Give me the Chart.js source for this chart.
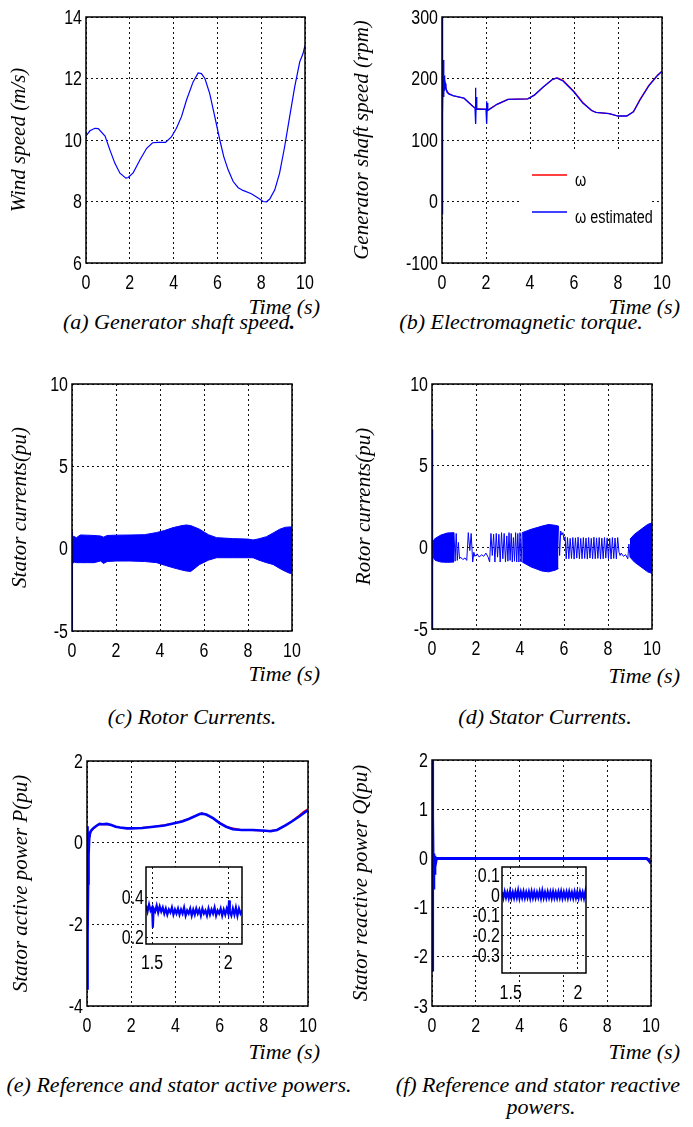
<!DOCTYPE html>
<html>
<head>
<meta charset="utf-8">
<script src="https://cdn.jsdelivr.net/npm/chart.js@4.4.1/dist/chart.umd.min.js"></script>
<style>
  body { margin: 0; background: #fff; width: 693px; height: 1127px; position: relative; overflow: hidden; }
  canvas { position: absolute; }
  .t { position: absolute; font: italic 22px "Liberation Serif", "Times New Roman", serif; white-space: nowrap; line-height: 22px; color: #000; }
  .cap { text-align: center; width: 400px; }
</style>
</head>
<body>
<div class="t" style="right:373px;top:296px">Time (s)</div>
<div class="t" style="right:13px;top:296px">Time (s)</div>
<div class="t" style="right:373px;top:663px">Time (s)</div>
<div class="t" style="right:13px;top:665px">Time (s)</div>
<div class="t" style="right:373px;top:1041px">Time (s)</div>
<div class="t" style="right:13px;top:1041px">Time (s)</div>

<div class="t cap" style="left:-21px;top:311px">(a) Generator shaft speed<b>.</b></div>
<div class="t cap" style="left:321px;top:311px">(b) Electromagnetic torque.</div>
<div class="t cap" style="left:-8px;top:706px">(c) Rotor Currents.</div>
<div class="t cap" style="left:345px;top:706px">(d) Stator Currents.</div>
<div class="t cap" style="left:-21px;top:1074px">(e) Reference and stator active powers.</div>
<div class="t cap" style="left:338px;top:1074px">(f) Reference and stator reactive</div>
<div class="t cap" style="left:341px;top:1096px">powers.</div>

<script>
// ---- tick labels ----
const timeTicks = [0, 2, 4, 6, 8, 10];
const windTicks = [6, 8, 10, 12, 14];
const speedTicks = [-100, 0, 100, 200, 300];
const currentTicks = [-5, 0, 5, 10];
const pTicks = [-4, -2, 0, 2];
const qTicks = [-3, -2, -1, 0, 1, 2];
const insetPxTicks = [1.5, 2];
const insetPyTicks = [0.2, 0.4];
const insetQxTicks = [1.5, 2];
const insetQyTicks = [-0.3, -0.2, -0.1, 0, 0.1];

// ---- (a) wind speed ----
const windTime = [0, 0.18, 0.41, 0.56, 0.87, 1.09, 1.32, 1.55, 1.82, 1.93, 2.16, 2.46, 2.77, 3.04, 3.3, 3.63, 3.91, 4.13, 4.36, 4.59, 4.89, 5.12, 5.27, 5.43, 5.65, 5.88, 6.11, 6.29, 6.49, 6.72, 6.95, 7.17, 7.55, 7.86, 8.09, 8.24, 8.39, 8.62, 8.84, 9.07, 9.3, 9.53, 9.76, 9.91, 10];
const windSpeed = [10.13, 10.3, 10.38, 10.37, 10.13, 9.68, 9.24, 8.92, 8.76, 8.78, 8.94, 9.35, 9.73, 9.91, 9.92, 9.92, 10.11, 10.38, 10.76, 11.3, 11.89, 12.18, 12.16, 12.0, 11.51, 10.76, 10.0, 9.46, 9.03, 8.65, 8.45, 8.36, 8.25, 8.11, 8.0, 7.99, 8.08, 8.38, 8.92, 9.78, 10.76, 11.73, 12.54, 12.81, 13.08];

// ---- (b) generator shaft speed ----
const omegaTime = [0, 0.1, 0.2, 0.3, 0.5, 1.0, 1.4, 1.55, 2.0, 2.1, 2.5, 3.0, 3.9, 4.2, 4.6, 5.0, 5.25, 5.5, 6.0, 6.4, 6.8, 7.0, 7.6, 8.0, 8.4, 8.7, 9.0, 9.4, 9.8, 10];
const omega = [203, 196, 182, 176, 172, 168, 155, 151, 150, 149, 158, 166, 167, 173, 186, 198, 201, 197, 179, 161, 148, 145, 143, 139, 139, 146, 166, 189, 206, 212];
const estTime = [0, 0.01, 0.02, 0.03, 0.045, 0.06, 0.08, 0.1, 0.12, 0.15, 0.18, 0.22, 0.3, 0.5, 1.0, 1.4, 1.5, 1.52, 1.54, 1.56, 1.58, 2.0, 2.02, 2.04, 2.06, 2.08, 2.5, 3.0, 3.9, 4.2, 4.6, 5.0, 5.2, 5.5, 6.0, 6.4, 6.8, 7.0, 7.6, 8.0, 8.4, 8.7, 9.0, 9.4, 9.8, 10];
const omegaEst = [-20, 300, 120, 262, 140, 230, 170, 205, 180, 192, 185, 178, 175, 172, 168, 155, 152, 185, 126, 170, 150, 150, 163, 126, 160, 148, 158, 166, 167, 173, 186, 198, 201, 196, 178, 160, 148, 145, 143, 139, 139, 146, 165, 188, 205, 212];

// ---- (c) stator currents ----
const statorSpikeTime = [0, 0.01, 0.02, 0.03, 0.05, 0.07];
const statorSpike = [0, 1.05, -5, 0.9, -0.85, 0.75];
const statorEnvTime = [0.07, 0.2, 0.38, 0.7, 1.0, 1.3, 1.43, 1.6, 2.0, 2.64, 3.3, 3.85, 4.2, 4.6, 5.0, 5.2, 5.4, 5.8, 6.2, 6.57, 7.3, 8.0, 8.23, 8.5, 8.84, 9.14, 9.44, 9.7, 9.9, 10];
const statorUpper = [0.75, 0.67, 0.83, 0.82, 0.8, 0.77, 0.7, 0.8, 0.82, 0.83, 0.85, 0.98, 1.1, 1.28, 1.4, 1.44, 1.4, 1.18, 0.85, 0.67, 0.61, 0.58, 0.53, 0.6, 0.73, 0.95, 1.18, 1.3, 1.32, 1.32];
const statorLower = [-0.8, -0.85, -0.85, -0.85, -0.85, -0.75, -0.9, -0.78, -0.75, -0.75, -0.78, -0.85, -1.0, -1.16, -1.3, -1.36, -1.38, -0.96, -0.7, -0.55, -0.55, -0.55, -0.55, -0.7, -0.85, -0.96, -1.2, -1.38, -1.5, -1.5];

// ---- (d) rotor currents ----
const rotorSpikeTime = [0, 0.005, 0.01, 0.015, 0.02, 0.03, 0.04, 0.05];
const rotorSpike = [0, 7.2, -5, 3, -2.8, 2, -1.2, 0.4];
const rotorBand1Time = [0.05, 0.15, 0.4, 0.7, 1.0];
const rotorBand1Upper = [0.4, 0.55, 0.75, 0.88, 0.9];
const rotorBand1Lower = [-0.6, -0.8, -0.9, -0.92, -0.9];
const rotorBand2Time = [4.1, 4.5, 5.0, 5.3, 5.6, 5.75];
const rotorBand2Upper = [0.9, 1.1, 1.3, 1.4, 1.35, 1.3];
const rotorBand2Lower = [-0.9, -1.2, -1.45, -1.5, -1.4, -1.3];
const rotorBand3Time = [9.0, 9.2, 9.5, 9.8, 10];
const rotorBand3Upper = [0.5, 0.8, 1.1, 1.4, 1.5];
const rotorBand3Lower = [-0.6, -0.9, -1.2, -1.5, -1.6];
const rotorWave1Time = [1.0, 1.05, 1.1, 1.15, 1.2, 1.25, 1.3, 1.4, 1.5, 1.58, 1.65, 1.72, 1.78, 1.85, 1.9, 1.95, 2.05, 2.15, 2.25, 2.35, 2.45, 2.55, 2.62, 2.68, 2.74, 2.8, 2.86, 2.92, 2.98, 3.04, 3.1, 3.16, 3.22, 3.28, 3.34, 3.4, 3.45, 3.5, 3.55, 3.6, 3.65, 3.7, 3.75, 3.8, 3.85, 3.9, 3.95, 4.0, 4.05, 4.1];
const rotorWave1 = [0.9, -0.85, 0.85, -0.8, 0.3, -0.7, -0.6, -0.75, -0.65, -0.8, 0.9, -0.2, 0.85, -0.9, -0.3, -0.55, -0.4, -0.6, -0.45, -0.55, -0.35, -0.6, -0.9, 0.85, -0.5, 0.8, -0.9, 0.85, -0.6, 0.8, -0.9, 0.9, -0.7, 0.85, -0.9, 0.7, -0.85, 0.9, -0.8, 0.85, -0.9, 0.6, -0.85, 0.9, -0.9, 0.85, -0.9, 0.9, -0.9, 0.9];
const rotorWave2Time = [5.75, 5.8, 5.85, 5.9, 5.95, 6.0, 6.05, 6.1, 6.16, 6.22, 6.28, 6.34, 6.4, 6.46, 6.52, 6.58, 6.64, 6.7, 6.76, 6.82, 6.88, 6.94, 7.0, 7.06, 7.12, 7.18, 7.24, 7.3, 7.36, 7.42, 7.48, 7.54, 7.6, 7.66, 7.72, 7.78, 7.84, 7.9, 7.96, 8.02, 8.08, 8.14, 8.2, 8.26, 8.32, 8.38, 8.44, 8.5, 8.55, 8.6, 8.7, 8.8, 8.9, 8.95, 9.0];
const rotorWave2 = [1.3, -0.5, 1.0, 0.75, 0.9, 0.45, 0.65, -0.7, 0.6, -0.7, 0.55, -0.68, 0.6, -0.72, 0.58, -0.66, 0.62, -0.7, 0.55, -0.7, 0.6, -0.68, 0.57, -0.72, 0.6, -0.66, 0.55, -0.7, 0.62, -0.7, 0.58, -0.68, 0.6, -0.72, 0.56, -0.7, 0.6, -0.66, 0.58, -0.7, 0.55, -0.72, 0.6, -0.68, 0.57, -0.7, 0.6, -0.3, -0.5, -0.35, -0.55, -0.45, -0.7, 0.2, -0.6];

// ---- (e) active power ----
const pTime = [0, 0.01, 0.02, 0.03, 0.04, 0.05, 0.07, 0.1, 0.14, 0.2, 0.3, 0.45, 0.57, 0.7, 0.9, 1.1, 1.3, 1.5, 1.8, 2.0, 2.5, 3.0, 3.5, 3.9, 4.3, 4.6, 5.1, 5.2, 5.4, 5.7, 6.0, 6.3, 6.6, 7.0, 7.5, 8.1, 8.3, 8.6, 9.0, 9.3, 9.6, 9.8, 9.9, 10];
const pMeas = [0.4, -3.6, 0.3, -3.0, -2.3, -1.0, -0.3, 0.1, 0.25, 0.3, 0.36, 0.42, 0.46, 0.45, 0.46, 0.43, 0.39, 0.37, 0.35, 0.35, 0.36, 0.39, 0.42, 0.47, 0.52, 0.58, 0.7, 0.71, 0.69, 0.6, 0.48, 0.39, 0.33, 0.31, 0.31, 0.29, 0.28, 0.31, 0.43, 0.53, 0.64, 0.72, 0.76, 0.79];
const pRefTime = [0, 0.1, 0.2, 0.5, 1.0, 1.5, 2.0, 3.0, 3.9, 4.6, 5.2, 5.7, 6.3, 7.0, 8.1, 8.6, 9.0, 9.3, 9.6, 9.8, 10];
const pRef = [0.3, 0.1, 0.3, 0.44, 0.44, 0.37, 0.35, 0.39, 0.47, 0.58, 0.73, 0.6, 0.39, 0.31, 0.29, 0.31, 0.43, 0.54, 0.67, 0.76, 0.83];
const pInsetTime = [1.46, 1.47, 1.48, 1.49, 1.5, 1.505, 1.51, 1.52, 1.53, 1.54, 1.55, 1.56, 1.57, 1.58, 1.59, 1.6, 1.61, 1.62, 1.63, 1.64, 1.65, 1.66, 1.67, 1.68, 1.69, 1.7, 1.71, 1.72, 1.73, 1.74, 1.75, 1.76, 1.77, 1.78, 1.79, 1.8, 1.81, 1.82, 1.83, 1.84, 1.85, 1.86, 1.87, 1.88, 1.89, 1.9, 1.91, 1.92, 1.93, 1.94, 1.95, 1.96, 1.97, 1.98, 1.99, 2.0, 2.005, 2.01, 2.02, 2.03, 2.04, 2.05, 2.06, 2.07, 2.08, 2.09];
const pInset = [0.36, 0.33, 0.365, 0.335, 0.35, 0.25, 0.345, 0.33, 0.36, 0.325, 0.355, 0.33, 0.35, 0.32, 0.345, 0.315, 0.34, 0.325, 0.35, 0.315, 0.34, 0.32, 0.345, 0.315, 0.34, 0.32, 0.35, 0.31, 0.335, 0.32, 0.345, 0.31, 0.34, 0.315, 0.345, 0.32, 0.34, 0.31, 0.345, 0.32, 0.335, 0.31, 0.345, 0.315, 0.34, 0.32, 0.35, 0.31, 0.335, 0.32, 0.345, 0.31, 0.34, 0.315, 0.345, 0.32, 0.385, 0.33, 0.31, 0.345, 0.315, 0.35, 0.31, 0.345, 0.32, 0.335];

// ---- (f) reactive power ----
const qTime = [0, 0.01, 0.02, 0.03, 0.045, 0.06, 0.08, 0.1, 0.13, 0.16, 0.2, 0.3, 1.0, 9.8, 9.9, 10];
const qMeas = [2.0, -2.3, 1.5, -1.5, 0.85, -0.6, 0.1, -0.3, 0.05, -0.1, 0.0, 0.0, 0.0, 0.0, -0.04, -0.1];
const qRefTime = [0, 10];
const qRef = [0, 0];
const qInsetTime = [1.435, 1.445, 1.455, 1.465, 1.475, 1.485, 1.495, 1.505, 1.515, 1.525, 1.535, 1.545, 1.555, 1.565, 1.575, 1.585, 1.595, 1.605, 1.615, 1.625, 1.635, 1.645, 1.655, 1.665, 1.675, 1.685, 1.695, 1.705, 1.715, 1.725, 1.735, 1.745, 1.755, 1.765, 1.775, 1.785, 1.795, 1.805, 1.815, 1.825, 1.835, 1.845, 1.855, 1.865, 1.875, 1.885, 1.895, 1.905, 1.915, 1.925, 1.935, 1.945, 1.955, 1.965, 1.975, 1.985, 1.995, 2.005, 2.015, 2.025, 2.035, 2.045, 2.055, 2.06];
const qInset = [0.018, -0.012, 0.02, -0.01, 0.016, -0.013, 0.022, -0.011, 0.017, -0.012, 0.019, -0.01, 0.026, -0.013, 0.018, -0.011, 0.02, -0.012, 0.017, -0.01, 0.019, -0.013, 0.021, -0.011, 0.018, -0.012, 0.016, -0.01, 0.02, -0.013, 0.024, -0.011, 0.017, -0.012, 0.019, -0.01, 0.018, -0.013, 0.02, -0.011, 0.016, -0.012, 0.019, -0.01, 0.021, -0.013, 0.017, -0.011, 0.018, -0.012, 0.02, -0.01, 0.016, -0.013, 0.019, -0.011, 0.018, -0.012, 0.02, -0.01, 0.017, -0.013, 0.019, -0.011];

// ---- helpers ----
const BLUE = '#0000ff', RED = '#ff0000';
const TICK_FAMILY = "'Liberation Sans', Arial, sans-serif";
const NARROW = 0.8;   // the figure's tick font is a condensed sans
const TITLE_FONT = { family: "'Liberation Serif', 'Times New Roman', serif", style: 'italic', size: 21 };

function pts(xs, ys) {
  return xs.map((x, i) => ({ x: x, y: ys[i] }));
}
function line(xs, ys, color, width, extra) {
  return Object.assign({ data: pts(xs, ys), borderColor: color, backgroundColor: color, borderWidth: width, fill: false, order: 0 }, extra || {});
}
// upper line filled down to the following lower line
function band(xs, up, lo) {
  return [
    line(xs, up, BLUE, 1, { fill: '+1', backgroundColor: BLUE }),
    line(xs, lo, BLUE, 1)
  ];
}

const framePlugin = {
  id: 'frame',
  beforeDraw(chart, args, opts) {
    if (!opts.white) return;
    const a = chart.chartArea, ctx = chart.ctx;
    ctx.save();
    ctx.fillStyle = '#fff';
    ctx.fillRect(a.left, a.top, a.width, a.height);
    ctx.restore();
  },
  afterDraw(chart) {
    const a = chart.chartArea, ctx = chart.ctx;
    ctx.save();
    ctx.strokeStyle = '#000';
    ctx.lineWidth = 1.5;
    ctx.strokeRect(a.left, a.top, a.width, a.height);
    ctx.restore();
  }
};

// tick labels drawn from the chart's own scales, squeezed horizontally
const narrowTicks = {
  id: 'narrowTicks',
  afterDraw(chart, args, o) {
    const ctx = chart.ctx, a = chart.chartArea;
    const xs = chart.scales.x, ys = chart.scales.y;
    ctx.save();
    ctx.fillStyle = '#000';
    ctx.font = o.size + 'px ' + TICK_FAMILY;
    ctx.scale(NARROW, 1);
    ctx.textAlign = 'center';
    ctx.textBaseline = 'top';
    xs.ticks.forEach(t => ctx.fillText(String(t.value), xs.getPixelForValue(t.value) / NARROW, a.bottom + o.xPad));
    ctx.textAlign = 'right';
    ctx.textBaseline = 'middle';
    ys.ticks.forEach(t => ctx.fillText(String(t.value), (a.left - o.yPad) / NARROW, ys.getPixelForValue(t.value) + 1));
    ctx.restore();
  }
};

// white legend box inside the plot, like the MATLAB one
const boxLegend = {
  id: 'boxLegend',
  beforeDatasetsDraw(chart, args, o) {
    const ctx = chart.ctx, a = chart.chartArea;
    ctx.save();
    ctx.fillStyle = '#fff';
    ctx.fillRect(a.left + o.box[0], a.top + o.box[1], o.box[2], o.box[3]);
    chart.data.datasets.forEach((ds, i) => {
      const y = a.top + o.rows[i];
      ctx.strokeStyle = ds.borderColor;
      ctx.lineWidth = 1.3;
      ctx.beginPath();
      ctx.moveTo(a.left + o.lineX[0], y);
      ctx.lineTo(a.left + o.lineX[1], y);
      ctx.stroke();
      ctx.save();
      ctx.fillStyle = '#000';
      ctx.font = '18px ' + TICK_FAMILY;
      ctx.textBaseline = 'middle';
      ctx.scale(NARROW, 1);
      ctx.fillText(ds.label, (a.left + o.textX) / NARROW, y + 6);
      ctx.restore();
    });
    ctx.restore();
  }
};

function axis(min, max, ticks, fit) {
  return {
    type: 'linear', min: min, max: max,
    afterBuildTicks: s => { s.ticks = ticks.map(v => ({ value: v })); },
    afterFit: fit,
    ticks: { display: false, autoSkip: false },
    grid: { color: '#111', lineWidth: 1, drawTicks: false },
    border: { display: false, dash: [2, 3] }
  };
}

function makeChart(p) {
  const c = document.createElement('canvas');
  c.width = p.w; c.height = p.h;
  c.style.left = p.x + 'px'; c.style.top = p.y + 'px';
  c.style.width = p.w + 'px'; c.style.height = p.h + 'px';
  document.body.appendChild(c);
  const yW = p.area[0] - p.x, xH = p.y + p.h - p.area[3];
  const yAxis = axis(p.yMin, p.yMax, p.yTicks, s => { s.width = yW; });
  if (p.title) {
    yAxis.title = { display: true, text: p.title, color: '#000', font: TITLE_FONT, padding: { top: p.titlePad, bottom: 0 } };
  }
  return new Chart(c, {
    type: 'line',
    data: { datasets: p.datasets },
    options: {
      responsive: false, animation: false, devicePixelRatio: 1,
      layout: { padding: { left: 0, bottom: 0, top: p.area[1] - p.y, right: p.x + p.w - p.area[2] } },
      elements: { point: { radius: 0 }, line: { tension: 0 } },
      plugins: { legend: { display: false }, tooltip: { enabled: false },
                 frame: { white: !!p.inset }, boxLegend: p.legend || false,
                 narrowTicks: { size: p.font || 20, xPad: p.xPad || 10, yPad: p.yPad || 4 } },
      scales: {
        x: axis(p.xMin, p.xMax, p.xTicks, s => { s.height = xH; }),
        y: yAxis
      }
    },
    plugins: [framePlugin, boxLegend, narrowTicks]
  });
}

// (a)
makeChart({ x: 0, y: 0, w: 340, h: 300, area: [86, 17, 305, 263],
  xMin: 0, xMax: 10, xTicks: timeTicks, yMin: 6, yMax: 14, yTicks: windTicks,
  title: 'Wind speed (m/s)', titlePad: 7,
  datasets: [line(windTime, windSpeed, BLUE, 1.2)] });

// (b) red reference sits under the blue estimate
makeChart({ x: 345, y: 0, w: 348, h: 300, area: [442, 17, 662, 263],
  xMin: 0, xMax: 10, xTicks: timeTicks, yMin: -100, yMax: 300, yTicks: speedTicks,
  title: 'Generator shaft speed (rpm)', titlePad: 5,
  legend: { box: [78, 133, 130, 113], rows: [158, 195], lineX: [90, 125], textX: 133 },
  datasets: [
    line(omegaTime, omega, RED, 1.2, { label: 'ω', order: 1 }),
    line(estTime, omegaEst, BLUE, 1.3, { label: 'ω estimated' })
  ] });

// (c)
makeChart({ x: 0, y: 365, w: 340, h: 300, area: [72, 384, 292, 631],
  xMin: 0, xMax: 10, xTicks: timeTicks, yMin: -5, yMax: 10, yTicks: currentTicks,
  title: 'Stator currents(pu)', titlePad: 8,
  datasets: [line(statorSpikeTime, statorSpike, BLUE, 1.2)].concat(band(statorEnvTime, statorUpper, statorLower)) });

// (d)
makeChart({ x: 345, y: 365, w: 348, h: 300, area: [432, 384, 652, 629],
  xMin: 0, xMax: 10, xTicks: timeTicks, yMin: -5, yMax: 10, yTicks: currentTicks,
  title: 'Rotor currents(pu)', titlePad: 7,
  datasets: [line(rotorSpikeTime, rotorSpike, BLUE, 1.5)]
    .concat(band(rotorBand1Time, rotorBand1Upper, rotorBand1Lower))
    .concat(band(rotorBand2Time, rotorBand2Upper, rotorBand2Lower))
    .concat(band(rotorBand3Time, rotorBand3Upper, rotorBand3Lower))
    .concat([line(rotorWave1Time, rotorWave1, BLUE, 1), line(rotorWave2Time, rotorWave2, BLUE, 1)]) });

// (e)
makeChart({ x: 0, y: 740, w: 340, h: 300, area: [87, 761, 308, 1006],
  xMin: 0, xMax: 10, xTicks: timeTicks, yMin: -4, yMax: 2, yTicks: pTicks,
  title: 'Stator active power P(pu)', titlePad: 9,
  datasets: [line(pRefTime, pRef, RED, 1.3, { order: 1 }), line(pTime, pMeas, BLUE, 2.6)] });

// (f)
makeChart({ x: 345, y: 740, w: 348, h: 300, area: [432, 760, 651, 1006],
  xMin: 0, xMax: 10, xTicks: timeTicks, yMin: -3, yMax: 2, yTicks: qTicks,
  title: 'Stator reactive power Q(pu)', titlePad: 4,
  datasets: [line(qRefTime, qRef, RED, 1, { order: 1 }), line(qTime, qMeas, BLUE, 3)] });

// inset of (e)
makeChart({ x: 100, y: 855, w: 150, h: 125, area: [146, 867, 242, 944], inset: true,
  xMin: 1.46, xMax: 2.09, xTicks: insetPxTicks, yMin: 0.17, yMax: 0.55, yTicks: insetPyTicks,
  yPad: 2, xPad: 9,
  datasets: [line(pInsetTime, pInset, BLUE, 2.2)] });

// inset of (f)
makeChart({ x: 445, y: 855, w: 150, h: 155, area: [502, 867, 586, 973], inset: true,
  xMin: 1.435, xMax: 2.06, xTicks: insetQxTicks, yMin: -0.387, yMax: 0.143, yTicks: insetQyTicks,
  yPad: 2, xPad: 10,
  datasets: [line(qInsetTime, qInset, BLUE, 2.2)] });
</script>
</body>
</html>
